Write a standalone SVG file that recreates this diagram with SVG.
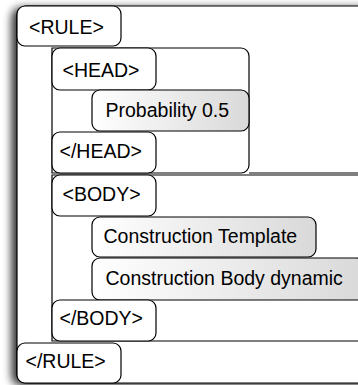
<svg xmlns="http://www.w3.org/2000/svg" width="358" height="385" viewBox="0 0 358 385">
<defs>
<linearGradient id="g" x1="0" y1="0" x2="1" y2="0">
<stop offset="0" stop-color="#ffffff"/>
<stop offset="1" stop-color="#d9d9d9"/>
</linearGradient>
<filter id="sh" x="-20%" y="-10%" width="140%" height="120%">
<feGaussianBlur in="SourceAlpha" stdDeviation="4"/>
<feOffset dx="-5" dy="2"/>
<feComponentTransfer><feFuncA type="linear" slope="0.8"/></feComponentTransfer>
<feMerge><feMergeNode/><feMergeNode in="SourceGraphic"/></feMerge>
</filter>
</defs>
<style>
.b{fill:#fff;stroke:#000;stroke-width:1.2}
.c{fill:none;stroke:#000;stroke-width:1.2}
.gr{fill:url(#g);stroke:#000;stroke-width:1.2}
text{font-family:"Liberation Sans",Arial,sans-serif;font-size:19.5px;fill:#000}
</style>
<rect width="358" height="385" fill="#fff"/>
<g id="rule">
<rect x="17" y="6" width="360" height="377" rx="9" class="b" filter="url(#sh)"/>
<g id="rule-open"><rect x="17" y="6" width="104" height="40" rx="8" class="b"/><text x="29" y="34">&lt;RULE&gt;</text></g>
<g id="head">
<path d="M52,48 H241 a8,8 0 0 1 8,8 V165 a8,8 0 0 1 -8,8 H52 Z" class="c"/>
<g id="head-open"><rect x="52" y="48" width="104" height="42" rx="8" class="b"/><text x="62.5" y="77">&lt;HEAD&gt;</text></g>
<g id="probability"><rect x="92" y="90" width="157" height="41" rx="8" class="gr"/><text x="105.5" y="117">Probability 0.5</text></g>
<g id="head-close"><rect x="52" y="132" width="104" height="41" rx="8" class="b"/><text x="59.5" y="158">&lt;/HEAD&gt;</text></g>
</g>
<line x1="249" y1="173" x2="358" y2="173" class="c"/>
<g id="body">
<path d="M358,175 H52 V341 H358" class="c"/>
<g id="body-open"><rect x="52" y="175" width="104" height="41" rx="8" class="b"/><text x="62.5" y="201">&lt;BODY&gt;</text></g>
<g id="construction-template"><rect x="92" y="217" width="224" height="40" rx="8" class="gr"/><text x="103.5" y="243">Construction Template</text></g>
<g id="construction-body"><rect x="92" y="258" width="272" height="42" rx="8" class="gr"/><text x="105.5" y="285">Construction Body dynamic</text></g>
<g id="body-close"><rect x="52" y="300" width="104" height="41" rx="8" class="b"/><text x="59.5" y="325">&lt;/BODY&gt;</text></g>
</g>
<g id="rule-close"><rect x="17" y="343" width="104" height="40" rx="8" class="b"/><text x="25.5" y="368">&lt;/RULE&gt;</text></g>
</g>
<g id="connectors"/>
</svg>
